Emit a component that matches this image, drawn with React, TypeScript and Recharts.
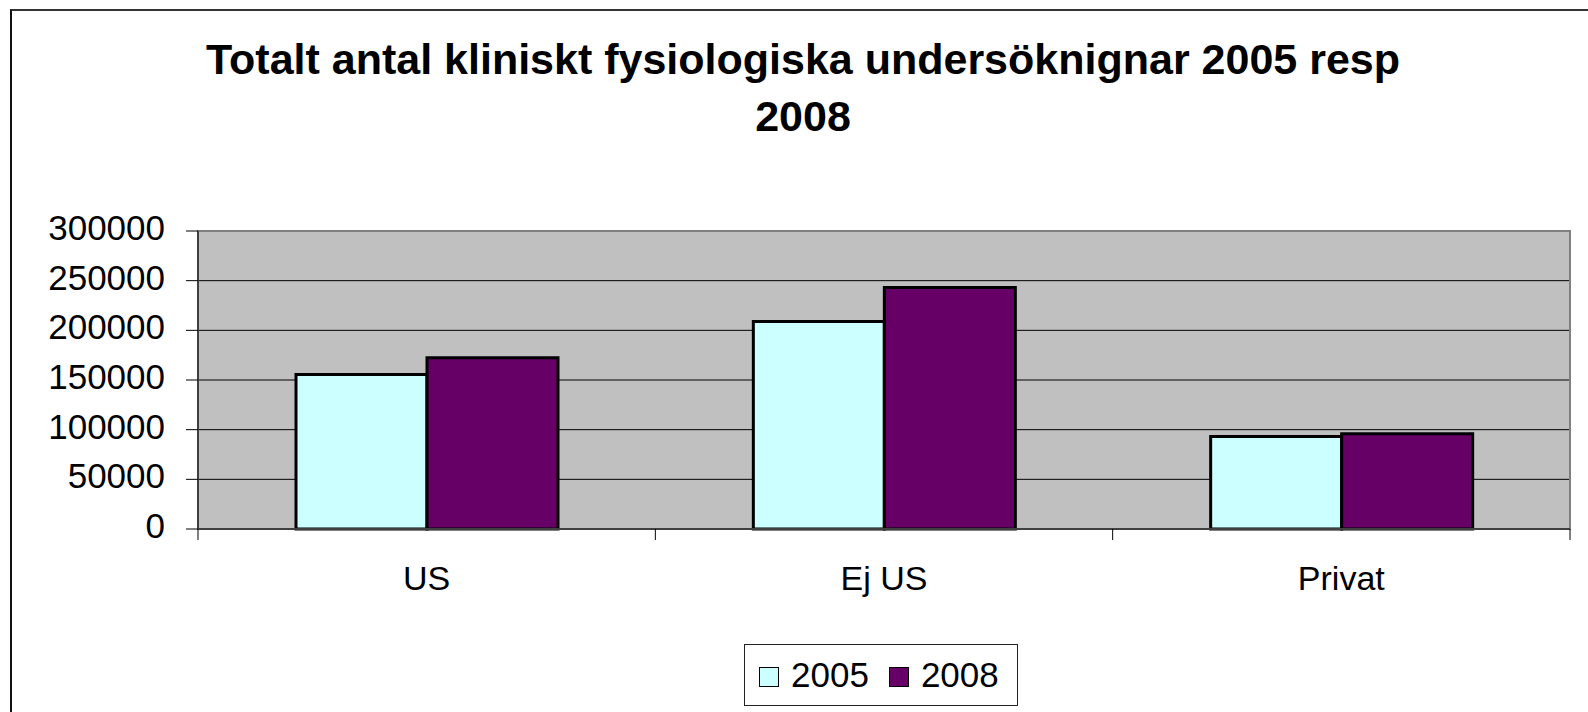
import React from 'react';
import {
  BarChart,
  Bar,
  XAxis,
  YAxis,
  CartesianGrid,
  Legend,
  ReferenceArea,
} from 'recharts';

const CATEGORIES = ['US', 'Ej US', 'Privat'];
const VALUES_2005 = [155500, 209000, 93000];
const VALUES_2008 = [172500, 243000, 96000];
const Y_TICKS = [0, 50000, 100000, 150000, 200000, 250000, 300000];
const SERIES = [
  { key: 'y2005', label: '2005', color: '#CCFFFF' },
  { key: 'y2008', label: '2008', color: '#660066' },
];

const data = CATEGORIES.map((name, i) => ({
  name,
  y2005: VALUES_2005[i],
  y2008: VALUES_2008[i],
}));

const FONT = '"Liberation Sans", Arial, sans-serif';
const W = 1588;
const H = 712;
const PLOT_LEFT = 198;
const PLOT_RIGHT = 1570;
const BAND = (PLOT_RIGHT - PLOT_LEFT) / CATEGORIES.length;

function YTick({ x, y, payload }: any) {
  return (
    <text x={x} y={y} dy={9} textAnchor="end" fontSize={35} fontFamily={FONT} fill="#000">
      {payload.value}
    </text>
  );
}

function XTick({ x, y, payload, index }: any) {
  const isLast = index === CATEGORIES.length - 1;
  return (
    <g>
      <line x1={x - BAND / 2} y1={y} x2={x - BAND / 2} y2={y + 11} stroke="#000" strokeWidth={1} />
      {isLast && (
        <line x1={x + BAND / 2} y1={y} x2={x + BAND / 2} y2={y + 11} stroke="#000" strokeWidth={1} />
      )}
      <text x={x} y={y + 61} textAnchor="middle" fontSize={34} fontFamily={FONT} fill="#000">
        {payload.value}
      </text>
    </g>
  );
}

function LegendBox() {
  return (
    <div
      style={{
        boxSizing: 'border-box',
        width: 274,
        height: 62,
        border: '1px solid #222',
        background: '#fff',
        display: 'flex',
        alignItems: 'center',
        paddingLeft: 14,
        fontFamily: FONT,
        fontSize: 35,
        color: '#000',
      }}
    >
      {SERIES.map((s, i) => (
        <React.Fragment key={s.key}>
          <span
            style={{
              boxSizing: 'border-box',
              display: 'inline-block',
              width: 20,
              height: 20,
              marginLeft: i === 0 ? 0 : 20,
              marginTop: 4,
              background: s.color,
              border: '1.5px solid #000',
            }}
          />
          <span style={{ marginLeft: 12, lineHeight: '40px' }}>{s.label}</span>
        </React.Fragment>
      ))}
    </div>
  );
}

export default function App() {
  return (
    <div style={{ position: 'absolute', left: 0, top: 0, width: W, height: H, overflow: 'hidden', background: '#fff' }}>
      <div
        style={{
          position: 'absolute',
          left: 10,
          top: 9,
          width: W,
          height: H,
          borderTop: '2px solid #333',
          borderLeft: '2px solid #111',
        }}
      />
      <div
        style={{
          position: 'absolute',
          left: 0,
          top: 31,
          width: 1606,
          textAlign: 'center',
          fontFamily: FONT,
          fontWeight: 'bold',
          fontSize: 43,
          lineHeight: '57px',
          color: '#000',
        }}
      >
        Totalt antal kliniskt fysiologiska undersöknignar 2005 resp
        <br />
        2008
      </div>
      <div style={{ position: 'absolute', left: 0, top: 0 }}>
        <BarChart
          width={W}
          height={H}
          data={data}
          margin={{ top: 231, right: W - PLOT_RIGHT, bottom: 123, left: 0 }}
          barGap={0}
          barSize={131}
        >
          <CartesianGrid vertical={false} fill="#C0C0C0" stroke="#000" strokeWidth={1} />
          <ReferenceArea y1={0} y2={300000} fill="none" stroke="#808080" strokeWidth={2} ifOverflow="visible" />
          <XAxis
            dataKey="name"
            height={60}
            tickLine={false}
            tickSize={0}
            tickMargin={0}
            axisLine={{ stroke: '#404040', strokeWidth: 2 }}
            tick={<XTick />}
            interval={0}
          />
          <YAxis
            width={PLOT_LEFT}
            domain={[0, 300000]}
            ticks={Y_TICKS}
            tickSize={12}
            tickMargin={21}
            tickLine={{ stroke: '#000' }}
            axisLine={{ stroke: '#404040', strokeWidth: 2 }}
            tick={<YTick />}
            interval={0}
          />
          <Legend
            layout="horizontal"
            verticalAlign="middle"
            align="center"
            width={274}
            height={62}
            content={<LegendBox />}
            wrapperStyle={{ position: 'absolute', left: 744, top: 644, width: 274, height: 62 }}
          />
          {SERIES.map((s) => (
            <Bar
              key={s.key}
              dataKey={s.key}
              name={s.label}
              fill={s.color}
              stroke="#000"
              strokeWidth={3}
              isAnimationActive={false}
            />
          ))}
        </BarChart>
      </div>
    </div>
  );
}
